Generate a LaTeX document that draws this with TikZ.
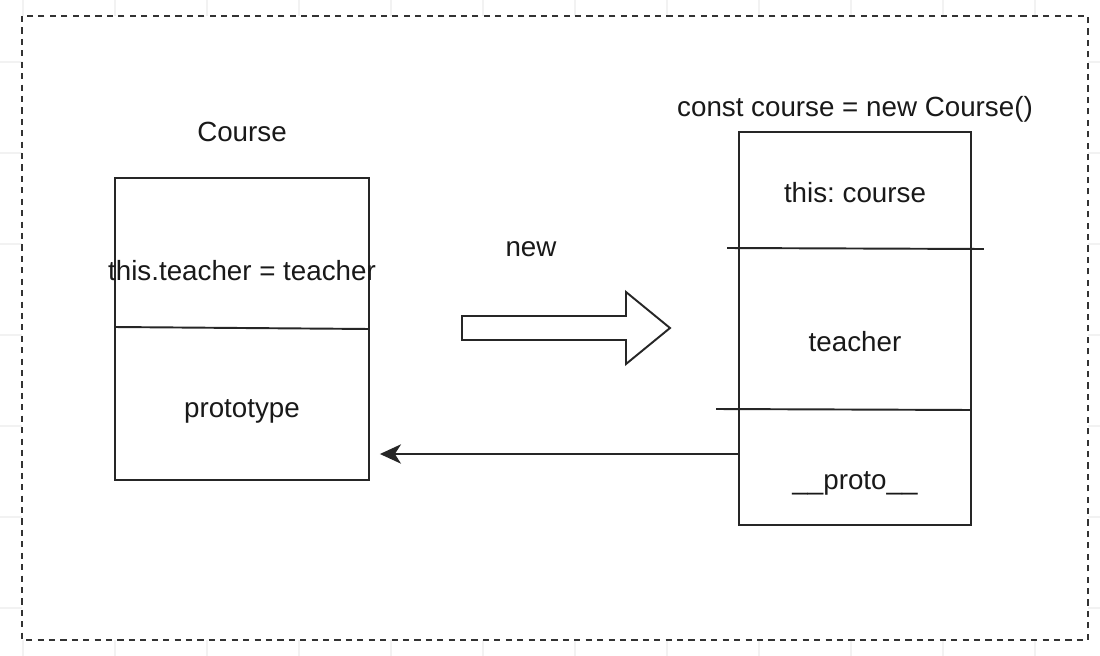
\documentclass[tikz,border=0pt]{standalone}
\usepackage{fontspec}
\setmainfont{Liberation Sans}
\usepackage{tikz}
\usetikzlibrary{arrows.meta}
\frenchspacing

\tikzset{
  gridline/.style={black!5, line width=0.6pt},
  frame/.style={draw=black!80, fill=white, line width=1.1pt, dash pattern=on 3.5pt off 3pt},
  box/.style={draw=black!85, line width=1.1pt, inner sep=0pt},
  bar/.style={draw=black!85, line width=1.1pt},
  lbl/.style={inner sep=0pt, text=black!90, font=\fontsize{15.8}{19}\selectfont},
  link/.style={draw=black!85, line width=1.1pt, -{Stealth[length=12pt,width=11pt,inset=3.5pt]}},
  bigarrow/.style={draw=black!85, fill=white, line width=1.1pt, line join=miter}
}

\begin{document}
\begin{tikzpicture}[x=0.02cm, y=-0.02cm]
  \useasboundingbox (0,0) rectangle (1100,656);
  % background grid
  \foreach \gx in {23,115,...,1100} \draw[gridline] (\gx,0) -- (\gx,656);
  \foreach \gy in {62,153,...,656} \draw[gridline] (0,\gy) -- (1100,\gy);
  \draw[frame] (22,16) rectangle (1088,640);

  % class Course
  \node[lbl] (cname) at (242,132) {Course};
  \node[box, minimum width=5.08cm, minimum height=6.04cm] (lbox) at (242,329) {};
  \draw[bar] (lbox.west |- 0,327) -- (lbox.east |- 0,329);
  \node[lbl] (ctor) at (242,271) {this.teacher = teacher};
  \node[lbl] (proto0) at (242,411) {prototype};

  % instance course
  \node[lbl] (iname) at (855,109) {const course = new Course()};
  \node[box, minimum width=4.64cm, minimum height=7.86cm] (rbox) at (855,328.5) {};
  \draw[bar] ([xshift=-0.22cm]rbox.west |- 0,248) -- ([xshift=0.24cm]rbox.east |- 0,249);
  \draw[bar] ([xshift=-0.44cm]rbox.west |- 0,409) -- (rbox.east |- 0,410);
  \node[lbl] (thisc) at (855,193) {this: course};
  \node[lbl] (teach) at (855,342) {teacher};
  \node[lbl] (proto) at (855,483) {\_\_proto\_\_};

  % new
  \node[lbl] (newlbl) at (531,249) {new};
  \draw[bigarrow] (462,316) -- (626,316) -- (626,292) -- (670,328)
    -- (626,364) -- (626,340) -- (462,340) -- cycle;

  % __proto__ -> prototype
  \coordinate (py) at (0,454);
  \draw[link] (rbox.west |- py) -- ([xshift=0.2cm]lbox.east |- py);
\end{tikzpicture}
\end{document}
